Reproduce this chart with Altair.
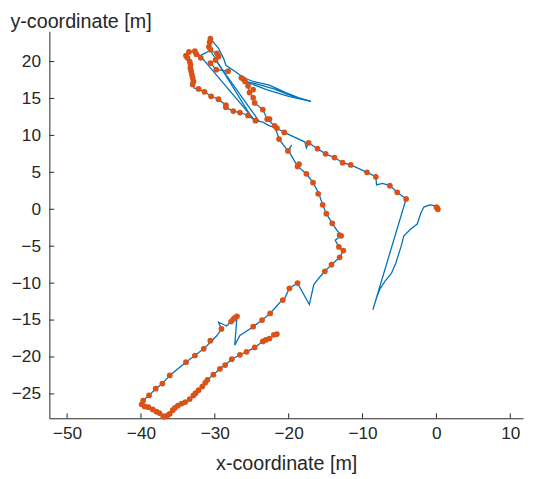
import altair as alt
import pandas as pd

# ---- blue trajectory (data units, metres), drawn as ordered segments ----
path_x = [0.2, -0.3, -0.9, -1.7, -2.1, -2.6, -3.5, -4.4, -4.8, -5.5, -6.1, -7.0, -7.7, -8.1, -8.6,
          -4.1, -5.3, -6.3, -7.3, -8.1, -8.2, -9.4, -11.6, -12.7, -13.8, -15.0, -16.1, -17.3,
          -17.6, -17.8, -20.6, -21.8, -22.6, -23.5, -24.5, -25.5, -26.6, -27.5, -28.5, -28.5,
          -29.5, -30.5, -31.4, -32.2, -32.8, -33.0, -32.9, -33.0, -33.2, -33.3, -33.3, -33.7,
          -33.5, -32.7, -32.0, -30.6, -30.8, -30.6, -30.0, -29.5, -28.8, -28.5, -27.3, -26.1,
          -24.8, -22.6, -20.4, -18.6, -17.0, -19.5, -22.0, -24.5, -25.9, -25.5, -25.3, -24.8,
          -24.6, -23.5, -22.9, -21.9, -21.3, -20.1, -19.6, -20.0, -18.8, -17.6, -16.7, -15.9,
          -15.4, -14.9, -14.1, -13.5, -12.9, -13.7, -13.2, -12.6, -13.1, -14.2, -15.1, -15.9,
          -16.6, -16.8, -17.2, -18.8, -19.9, -20.6, -20.9, -21.7, -22.5, -23.6, -24.8, -26.6,
          -27.3, -27.0, -27.5, -28.4, -29.5, -29.1, -29.7, -30.6, -31.5, -32.7, -33.9, -35.0,
          -36.1, -37.1, -38.0, -38.9, -39.7, -39.9, -39.5, -38.4, -37.5, -36.8, -36.1, -35.4,
          -35.0, -33.7, -32.6, -31.7, -31.0, -30.2, -29.3, -28.6, -27.7, -26.6, -25.7, -24.6,
          -23.5, -22.6, -21.7, -21.5]
path_y = [0.2, 0.5, 0.6, 0.3, -0.5, -2.0, -2.7, -3.6, -5.1, -7.3, -8.7, -9.8, -10.9, -12.0, -13.6,
          1.4, 2.3, 3.2, 3.5, 3.3, 4.4, 5.0, 6.0, 6.3, 7.0, 7.5, 8.2, 9.0,
          8.3, 9.1, 10.4, 11.1, 11.3, 11.8, 12.0, 12.7, 13.1, 13.3, 13.8, 14.1,
          14.9, 15.3, 15.9, 16.3, 16.4, 16.9, 17.3, 18.0, 18.7, 19.3, 20.0, 20.7,
          21.3, 21.4, 20.8, 21.5, 22.0, 23.1, 22.4, 21.8, 20.4, 19.5, 18.7, 17.8,
          17.3, 16.8, 15.8, 15.1, 14.6, 15.3, 16.3, 17.0, 17.3, 16.7, 15.8, 15.1,
          14.4, 13.5, 12.2, 11.3, 9.5, 7.9, 8.7, 7.9, 5.8, 4.8, 3.6, 2.1,
          0.6, -0.6, -1.9, -2.8, -3.6, -4.2, -5.1, -5.6, -6.5, -7.5, -8.4, -9.3,
          -10.2, -11.1, -12.9, -10.0, -10.7, -12.2, -12.3, -13.2, -14.1, -15.0, -15.9, -17.1,
          -18.4, -14.5, -14.9, -15.8, -15.3, -16.2, -17.1, -18.0, -18.9, -19.8, -20.7, -21.6,
          -22.5, -23.6, -24.3, -25.2, -25.9, -26.4, -26.7, -27.1, -27.6, -28.0, -27.8, -26.9,
          -26.5, -26.0, -24.9, -24.0, -23.1, -22.4, -21.6, -21.1, -20.3, -19.7, -19.3, -18.7,
          -17.9, -17.5, -16.9, -17.3]

# straight "jump" lines in the upper region
jump_x = [[-30.6, -25.0], [-32.0, -24.3], [-29.9, -24.0], [-30.6, -29.7, -29.9, -30.6, -29.8, -28.2],
          [-26.1, -23.0, -20.0, -17.0]]
jump_y = [[21.5, 12.4], [20.8, 11.7], [20.2, 11.9], [21.5, 21.1, 20.2, 19.8, 18.9, 18.7],
          [17.4, 16.2, 15.3, 14.6]]

# ---- orange detections ----
dot_x = [0.1, 0.2, 0.0,
         -4.1, -5.3, -6.3, -8.2, -9.4, -11.6, -12.7, -13.8, -15.0, -16.1, -17.3, -20.6, -21.6,
         -21.3, -20.1, -18.8, -18.6, -17.6, -16.7, -16.0, -15.4, -14.9, -14.1, -12.9, -13.1,
         -13.2, -12.6, -13.1, -14.2, -15.1,
         -18.8, -19.9, -20.8, -22.5, -23.6, -24.8, -27.0, -27.3, -27.5, -27.8, -29.1, -30.6,
         -31.5, -32.7, -33.9, -36.1, -37.1, -38.0, -38.9, -39.7,
         -39.9, -39.5, -39.0, -38.4, -37.9, -37.5, -37.0, -36.8, -36.4, -36.1, -35.7, -35.4,
         -35.0, -34.5, -34.0, -33.4, -32.9, -32.6, -32.2, -31.7, -31.3, -31.0, -30.2, -29.3,
         -28.6, -27.7, -26.6, -25.7, -24.6, -23.5, -23.1, -22.6, -22.0, -21.6,
         -33.5, -33.9, -33.7, -33.4, -33.3, -33.3, -33.2, -33.1, -33.0, -32.9, -33.0,
         -32.7, -32.5, -31.9, -30.6, -30.7, -30.8, -30.6, -29.7, -29.5, -29.9, -30.6, -29.8,
         -28.2, -32.2, -31.4, -30.5, -29.5, -28.5, -28.5, -27.5, -26.6, -25.5, -24.5, -22.6,
         -21.9, -26.4, -26.1, -25.9, -25.5, -25.3, -24.8, -24.8, -24.6, -23.5, -22.9]
dot_y = [0.2, 0.0, 0.3,
         1.4, 2.3, 3.2, 4.4, 5.0, 6.0, 6.3, 7.0, 7.5, 8.2, 9.0, 10.4, 11.0,
         9.5, 7.9, 5.8, 6.1, 4.8, 3.6, 2.1, 0.6, -0.6, -1.9, -3.6, -3.5,
         -5.1, -5.6, -6.5, -7.5, -8.4,
         -10.0, -10.7, -12.3, -14.1, -15.0, -15.9, -14.5, -14.7, -14.9, -15.2, -16.2, -17.8,
         -18.9, -19.8, -20.7, -22.5, -23.6, -24.3, -25.2, -25.9,
         -26.4, -26.7, -26.8, -27.1, -27.4, -27.6, -28.0, -28.1, -27.9, -27.7, -27.2, -26.9,
         -26.6, -26.3, -26.1, -25.7, -25.2, -24.9, -24.5, -24.0, -23.5, -23.1, -22.4, -21.6,
         -21.1, -20.3, -19.7, -19.3, -18.7, -17.9, -17.7, -17.5, -17.0, -16.9,
         21.3, 20.8, 20.5, 20.0, 19.6, 19.1, 18.7, 18.2, 17.8, 17.3, 16.9,
         21.4, 21.0, 20.5, 23.1, 22.6, 22.0, 21.6, 21.1, 20.7, 20.2, 19.8, 18.9,
         18.7, 16.3, 15.9, 15.3, 14.9, 14.1, 13.8, 13.3, 13.1, 12.7, 12.0, 12.2,
         11.3, 17.8, 17.6, 17.3, 16.7, 15.8, 16.2, 15.1, 14.4, 13.5, 12.2]

x_ticks = [-50, -40, -30, -20, -10, 0, 10]
y_ticks = [-25, -20, -15, -10, -5, 0, 5, 10, 15, 20]

X_DOMAIN = [-52.4, 11.73]
Y_DOMAIN = [-28.3, 24.1]
W, H = 481, 393
INK = "#262626"
FONT = "Liberation Sans"

rows = []
for i, (a, b) in enumerate(zip(path_x, path_y)):
    rows.append({"seg": "main", "i": i, "x": a, "y": b})
for k, (xs_, ys_) in enumerate(zip(jump_x, jump_y)):
    for i, (a, b) in enumerate(zip(xs_, ys_)):
        rows.append({"seg": f"jump{k}", "i": i, "x": a, "y": b})
line_df = pd.DataFrame(rows)
dot_df = pd.DataFrame({"x": dot_x, "y": dot_y})

xs = alt.Scale(domain=X_DOMAIN, nice=False, zero=False)
ys = alt.Scale(domain=Y_DOMAIN, nice=False, zero=False)

x_axis = alt.Axis(values=x_ticks, title="x-coordinate [m]", grid=False, tickSize=0,
                  labelPadding=7, labelFontSize=17.5, labelColor=INK, labelFont=FONT,
                  domainColor=INK, domainWidth=1, titleFont=FONT, titleFontSize=20,
                  titleFontWeight="normal", titleColor=INK, titleBaseline="alphabetic",
                  titleY=52)
y_axis = alt.Axis(values=y_ticks, title="y-coordinate [m]", grid=False, tickSize=0,
                  labelPadding=9, labelFontSize=17.5, labelColor=INK, labelFont=FONT,
                  domainColor=INK, domainWidth=1, titleFont=FONT, titleFontSize=20,
                  titleFontWeight="normal", titleColor=INK, titleAngle=0, titleAlign="left",
                  titleBaseline="alphabetic", titleX=-40, titleY=-4)

lines = alt.Chart(line_df).mark_line(color="#0072BD", strokeWidth=1.3, clip=True).encode(
    x=alt.X("x:Q", scale=xs, axis=x_axis),
    y=alt.Y("y:Q", scale=ys, axis=y_axis),
    detail="seg:N",
    order="i:Q",
)

dots = alt.Chart(dot_df).mark_circle(color="#D95319", size=34, opacity=1).encode(
    x=alt.X("x:Q", scale=xs),
    y=alt.Y("y:Q", scale=ys),
)

xt = alt.Chart(pd.DataFrame({"v": x_ticks})).mark_rule(color=INK, strokeWidth=1).encode(
    x=alt.X("v:Q", scale=xs), y=alt.value(H), y2=alt.value(H - 5))
yt = alt.Chart(pd.DataFrame({"v": y_ticks})).mark_rule(color=INK, strokeWidth=1).encode(
    y=alt.Y("v:Q", scale=ys), x=alt.value(0), x2=alt.value(5))

chart = alt.layer(lines, dots, xt, yt).properties(
    width=W, height=H,
    autosize=alt.AutoSizeParams(type="none"),
    padding={"left": 42, "top": 20, "right": 2, "bottom": 56},
    background="white",
).configure_view(stroke=None, strokeWidth=0)

chart.save("out.html", embed_options={"renderer": "svg", "actions": False})
